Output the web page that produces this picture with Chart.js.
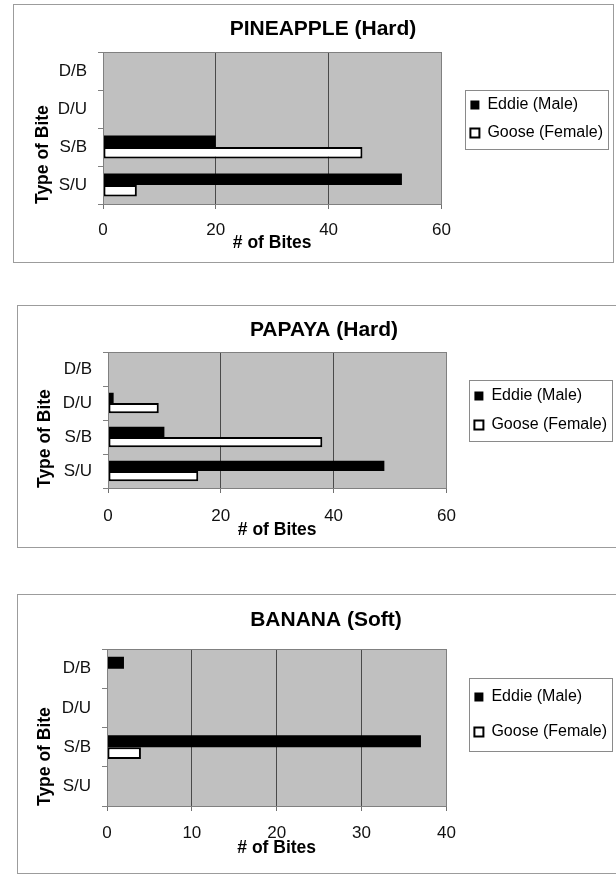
<!DOCTYPE html>
<html>
<head>
<meta charset="utf-8">
<script src="https://cdn.jsdelivr.net/npm/chart.js@4.4.1/dist/chart.umd.min.js"></script>
<style>
  html, body { margin:0; padding:0; background:#fff; overflow:hidden; width:616px; height:874px; }
  .panel { position:absolute; box-sizing:border-box; border:1px solid #9c9c9c; background:#fff; }
  .panel canvas { position:absolute; left:0; top:0; }
</style>
</head>
<body>
<div class="panel" style="left:13px;top:4px;width:601px;height:259px"><canvas id="chartPineapple" width="599" height="257"></canvas></div>
<div class="panel" style="left:17px;top:305px;width:604px;height:243px"><canvas id="chartPapaya" width="599" height="241"></canvas></div>
<div class="panel" style="left:17px;top:594px;width:604px;height:280px"><canvas id="chartBanana" width="599" height="278"></canvas></div>

<script>
// ---- data ------------------------------------------------------
const CATEGORIES   = ['D/B', 'D/U', 'S/B', 'S/U'];
const SERIES_NAMES = ['Eddie (Male)', 'Goose (Female)'];

const PINEAPPLE_EDDIE = [0, 0, 20, 53];
const PINEAPPLE_GOOSE = [0, 0, 46, 6];
const PAPAYA_EDDIE    = [0, 1, 10, 49];
const PAPAYA_GOOSE    = [0, 9, 38, 16];
const BANANA_EDDIE    = [2, 0, 37, 0];
const BANANA_GOOSE    = [0, 0, 4, 0];

const PINEAPPLE_TICKS = [0, 20, 40, 60];
const PAPAYA_TICKS    = [0, 20, 40, 60];
const BANANA_TICKS    = [0, 10, 20, 30, 40];

// ---- layout (pixels) -------------------------------------------
const LAYOUT_PINEAPPLE = { padLeft:19, padBottom:8.5,  yWidth:70, xHeight:49.5, gap:17, legendPad:12, legendTop:33, titlePad:{top:11.4, bottom:10.4}, xTickPad:11, yTitlePad:0 };
const LAYOUT_PAPAYA    = { padLeft:13, padBottom:6.5,  yWidth:77, xHeight:52.5, gap:15, legendPad:13, legendTop:23, titlePad:{top:11.4, bottom:9.4},  xTickPad:13, yTitlePad:3.5 };
const LAYOUT_BANANA    = { padLeft:17, padBottom:14.5, yWidth:72, xHeight:52.5, gap:9,  legendPad:19, legendTop:21, titlePad:{top:12.4, bottom:16.4}, xTickPad:12, yTitlePad:0 };

Chart.defaults.font.family = "'Liberation Sans', Arial, sans-serif";
Chart.defaults.color = '#111';

// fundo cinza da área de plotagem + moldura da legenda
const excelLook = {
  id: 'excelLook',
  beforeDraw(chart) {
    const { ctx, chartArea: a } = chart;
    ctx.save();
    ctx.fillStyle = '#c0c0c0';
    ctx.fillRect(a.left, a.top, a.right - a.left, a.bottom - a.top);
    ctx.restore();
  },
  afterDraw(chart, args, opts) {
    const { ctx, chartArea: a } = chart;
    ctx.save();
    ctx.strokeStyle = '#808080';
    ctx.lineWidth = 1;
    ctx.strokeRect(Math.round(a.left) + 0.5, Math.round(a.top) + 0.5,
                   Math.round(a.right - a.left), Math.round(a.bottom - a.top));

    const hb = chart.legend && chart.legend.legendHitBoxes;
    if (hb && hb.length) {
      const m = opts.margin || 8;
      const l = hb[0].left - 5;
      const t = hb[0].top - m;
      const r = Math.max(...hb.map(h => h.left + h.width)) + 5;
      const last = hb[hb.length - 1];
      const b = last.top + last.height + m;
      ctx.strokeStyle = '#8a8a8a';
      ctx.strokeRect(Math.round(l) + 0.5, Math.round(t) + 0.5, Math.round(r - l), Math.round(b - t));
    }
    ctx.restore();
  }
};

function makeChart(canvasId, title, eddie, goose, ticks, lay) {
  return new Chart(document.getElementById(canvasId), {
    type: 'bar',
    data: {
      labels: CATEGORIES,
      datasets: [
        { label: SERIES_NAMES[0], data: eddie, backgroundColor: '#000', borderColor: '#000', borderWidth: 0 },
        { label: SERIES_NAMES[1], data: goose, backgroundColor: '#fff', borderColor: '#000', borderWidth: 2, borderSkipped: false },
      ],
    },
    options: {
      indexAxis: 'y',
      responsive: false,
      animation: false,
      categoryPercentage: 0.6,
      barPercentage: 1.0,
      layout: { padding: { left: lay.padLeft, right: 0, top: 0, bottom: lay.padBottom } },
      plugins: {
        title: { display: true, text: title, color: '#000', font: { size: 21, weight: 'bold' }, padding: lay.titlePad },
        legend: {
          position: 'right', align: 'start', fullSize: false, maxWidth: 240,
          title: { display: true, text: '', font: { size: 10, lineHeight: 1 }, padding: { top: lay.legendTop - 10, bottom: 0 } },
          labels: { boxWidth: 9, boxHeight: 9, padding: lay.legendPad, color: '#000', font: { size: 16 } },
        },
        tooltip: { enabled: false },
        excelLook: { margin: lay.legendPad / 2 + 1.5 },
      },
      scales: {
        x: {
          type: 'linear',
          min: ticks[0],
          max: ticks[ticks.length - 1],
          afterBuildTicks: s => { s.ticks = ticks.map(v => ({ value: v })); },
          grid: { color: '#4a4a4a', tickColor: '#707070', tickLength: 5 },
          border: { color: '#5a5a5a' },
          ticks: { padding: lay.xTickPad, color: '#111', font: { size: 17 } },
          title: { display: true, text: '# of Bites', color: '#000', font: { size: 17.5, weight: 'bold' }, padding: { top: 0, bottom: 0 } },
          afterFit: s => { s.height = lay.xHeight; },
        },
        y: {
          type: 'category',
          grid: { display: true, drawOnChartArea: false, offset: true, tickLength: 5, color: '#808080' },
          border: { color: '#808080' },
          ticks: { padding: 11, color: '#111', font: { size: 17 } },
          title: { display: true, text: 'Type of Bite', align: 'start', color: '#000', font: { size: 17.5, weight: 'bold' }, padding: { top: lay.yTitlePad, bottom: 0 } },
          afterFit: s => { s.width = lay.yWidth; },
        },
        gap: {
          type: 'linear', position: 'right', display: true,
          grid: { display: false }, ticks: { display: false }, border: { display: false },
          afterFit: s => { s.width = lay.gap; },
        },
      },
    },
    plugins: [excelLook],
  });
}

makeChart('chartPineapple', 'PINEAPPLE (Hard)', PINEAPPLE_EDDIE, PINEAPPLE_GOOSE, PINEAPPLE_TICKS, LAYOUT_PINEAPPLE);
makeChart('chartPapaya',    'PAPAYA (Hard)',    PAPAYA_EDDIE,    PAPAYA_GOOSE,    PAPAYA_TICKS,    LAYOUT_PAPAYA);
makeChart('chartBanana',    'BANANA (Soft)',    BANANA_EDDIE,    BANANA_GOOSE,    BANANA_TICKS,    LAYOUT_BANANA);
</script>
</body>
</html>
